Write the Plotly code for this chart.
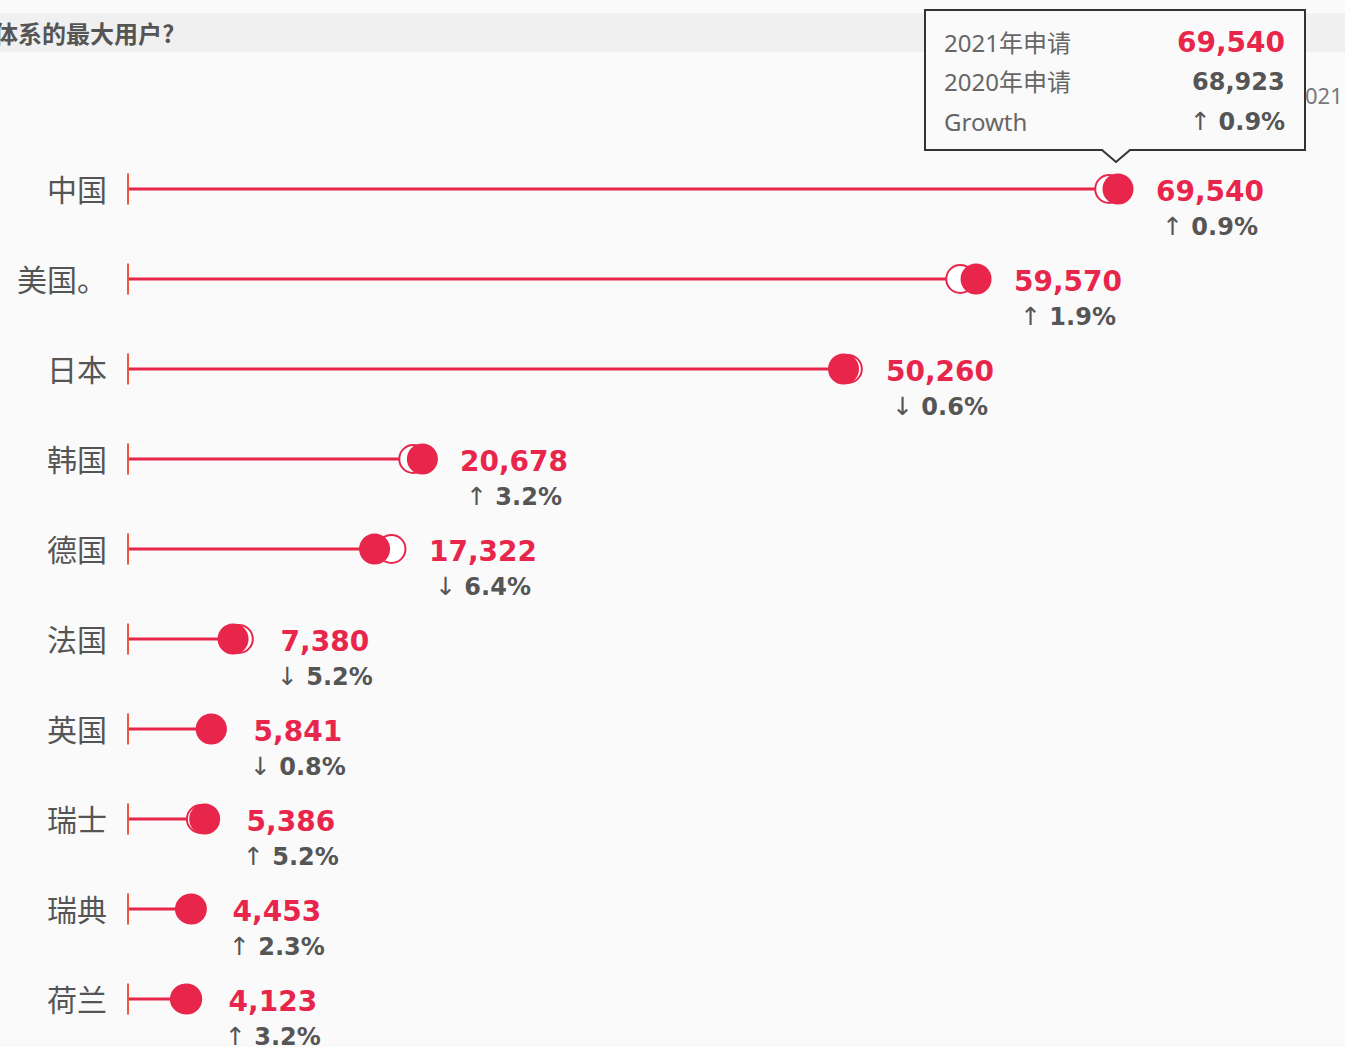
import plotly.graph_objects as go

# ---------------- data ----------------
countries = ["中国", "美国。", "日本", "韩国", "德国", "法国", "英国", "瑞士", "瑞典", "荷兰"]
apps_2021 = [69540, 59570, 50260, 20678, 17322, 7380, 5841, 5386, 4453, 4123]
apps_2020 = [68923, 58459, 50563, 20037, 18506, 7785, 5888, 5120, 4353, 3995]
growth_pct = [0.9, 1.9, -0.6, 3.2, -6.4, -5.2, -0.8, 5.2, 2.3, 3.2]
title_text = "体系的最大用户?"
legend_fragment = "021"
tooltip_labels = ["2021年申请", "2020年申请", "Growth"]
tooltip_index = 0

# ---------------- style ----------------
W, H = 1345, 1047
RED = "#e8264c"
GRAY = "#555555"
BG = "#fafafa"
X0_PX = 128          # pixel of value 0
SCALE = 990 / 69540  # px per unit
ROW0_PX = 189
ROW_STEP = 90

x_range = [-X0_PX / SCALE, (W - X0_PX) / SCALE]
y_range = [(H - ROW0_PX) / ROW_STEP, -ROW0_PX / ROW_STEP]

def px(xp):
    return xp / W

def py(yp):
    return 1 - yp / H

rows = list(range(len(countries)))

fig = go.Figure()

# connector lines from 0 to the 2021 value
lx, ly = [], []
for i, v in zip(rows, apps_2021):
    lx += [0, v, None]
    ly += [i, i, None]
fig.add_trace(go.Scatter(x=lx, y=ly, mode="lines",
                         line=dict(color=RED, width=3), hoverinfo="skip"))

# baseline ticks
fig.add_trace(go.Scatter(x=[0] * len(rows), y=rows, mode="markers",
                         marker=dict(symbol="line-ns-open", size=22,
                                     line=dict(color=RED, width=2)),
                         hoverinfo="skip"))

# 2020 hollow markers
fig.add_trace(go.Scatter(x=apps_2020, y=rows, mode="markers",
                         marker=dict(symbol="circle", size=28, color="white",
                                     line=dict(color=RED, width=2)),
                         hoverinfo="skip"))

# 2021 filled markers
fig.add_trace(go.Scatter(x=apps_2021, y=rows, mode="markers",
                         marker=dict(symbol="circle", size=31, color=RED,
                                     line=dict(color=RED, width=0)),
                         hoverinfo="skip"))

annotations = []

# category labels
for i, c in zip(rows, countries):
    annotations.append(dict(x=0, y=i, xref="x", yref="y", text=c,
                            xanchor="right", yanchor="middle", xshift=-19,
                            yshift=1, showarrow=False,
                            font=dict(family="Noto Sans CJK SC", size=30,
                                      color=GRAY)))

# value + growth labels
for i, v21, v20, g in zip(rows, apps_2021, apps_2020, growth_pct):
    arrow = "↑" if g >= 0 else "↓"
    txt = (f'<span style="font-size:28px;color:{RED}"><b>{v21:,}</b></span><br>'
           f'<span style="font-size:25px;color:{GRAY}">{arrow}</span> '
           f'<span style="font-size:24px;color:{GRAY}"><b>{abs(g):.1f}%</b></span>')
    annotations.append(dict(x=max(v21, v20), y=i, xref="x", yref="y", text=txt,
                            xanchor="left", yanchor="middle", align="center",
                            xshift=36, yshift=-19, showarrow=False,
                            font=dict(family="DejaVu Sans", size=26,
                                      color=GRAY)))

# title band text
annotations.append(dict(x=px(-8), y=py(32), xref="paper", yref="paper",
                        text=f"<b>{title_text}</b>", xanchor="left",
                        yanchor="middle", showarrow=False,
                        font=dict(family="Noto Sans CJK SC", size=24,
                                  color=GRAY)))

# legend fragment peeking from behind tooltip
annotations.append(dict(x=px(1303), y=py(95), xref="paper", yref="paper",
                        text=legend_fragment, xanchor="left",
                        yanchor="middle", showarrow=False,
                        font=dict(family="Noto Sans", size=22, color="#777")))

# tooltip contents
t = tooltip_index
tg = growth_pct[t]
tip_values = [
    f'<b><span style="color:{RED};font-size:28px">{apps_2021[t]:,}</span></b>',
    f'<b><span style="color:{GRAY};font-size:24px">{apps_2020[t]:,}</span></b>',
    f'<span style="font-size:25px">{"↑" if tg >= 0 else "↓"}</span> '
    f'<b><span style="font-size:24px">{abs(tg):.1f}%</span></b>',
]
tip_y = [42, 82, 122]
for lab, val, yy in zip(tooltip_labels, tip_values, tip_y):
    annotations.append(dict(x=px(942), y=py(yy), xref="paper", yref="paper",
                            text=lab, xanchor="left", yanchor="middle",
                            showarrow=False,
                            font=dict(family="Noto Sans, Noto Sans CJK SC",
                                      size=24, color="#666")))
    annotations.append(dict(x=px(1287), y=py(yy), xref="paper", yref="paper",
                            text=val, xanchor="right", yanchor="middle",
                            showarrow=False,
                            font=dict(family="DejaVu Sans", size=24,
                                      color=GRAY)))

shapes = [
    dict(type="rect", xref="paper", yref="paper", x0=0, x1=1,
         y0=py(52), y1=py(13), fillcolor="#f0f0f0", line=dict(width=0),
         layer="below"),
]
tip_path = (f"M {px(925)},{py(10)} L {px(1305)},{py(10)} L {px(1305)},{py(150)} "
            f"L {px(1130)},{py(150)} L {px(1116)},{py(162)} L {px(1102)},{py(150)} "
            f"L {px(925)},{py(150)} Z")
shapes.append(dict(type="path", xref="paper", yref="paper", path=tip_path,
                   fillcolor=BG, line=dict(color="#333", width=2),
                   layer="above"))

fig.update_layout(
    width=W, height=H,
    margin=dict(l=0, r=0, t=0, b=0),
    paper_bgcolor=BG, plot_bgcolor=BG,
    showlegend=False,
    hovermode=False,
    xaxis=dict(range=x_range, visible=False, fixedrange=True),
    yaxis=dict(range=y_range, visible=False, fixedrange=True),
    annotations=annotations,
    shapes=shapes,
)

fig.write_html(
    "out.html",
    config={"displayModeBar": False},
    post_script="document.body.style.margin='0';document.body.style.background='#fafafa';",
)
